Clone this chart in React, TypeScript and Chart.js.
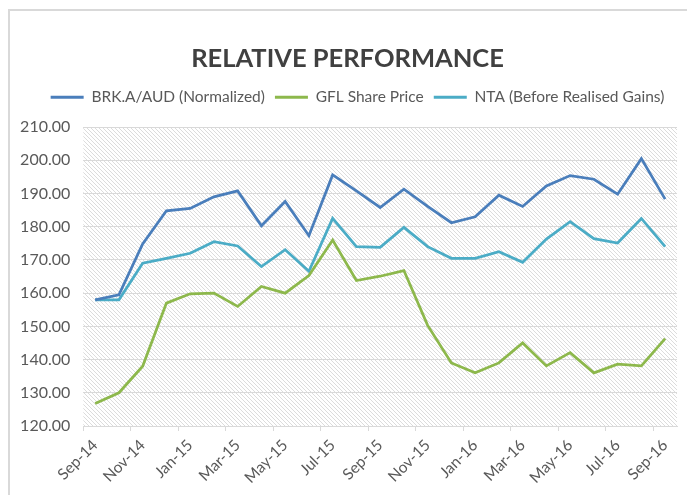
import React, { useEffect, useRef } from "react";
import { Chart, registerables } from "chart.js";

Chart.register(...registerables);

const categories = [
  "Sep-14", "Oct-14", "Nov-14", "Dec-14", "Jan-15", "Feb-15", "Mar-15", "Apr-15", "May-15",
  "Jun-15", "Jul-15", "Aug-15", "Sep-15", "Oct-15", "Nov-15", "Dec-15", "Jan-16", "Feb-16",
  "Mar-16", "Apr-16", "May-16", "Jun-16", "Jul-16", "Aug-16", "Sep-16",
];

const brkValues = [
  158.0, 159.5, 174.8, 184.8, 185.5, 189.0, 190.8, 180.3, 187.6, 177.3, 195.6, 190.8, 185.8,
  191.3, 186.1, 181.2, 183.0, 189.5, 186.1, 192.3, 195.4, 194.3, 189.8, 200.5, 188.3,
];

const gflValues = [
  126.8, 130.0, 138.0, 157.0, 159.8, 160.0, 156.0, 162.0, 160.0, 165.3, 176.0, 163.8, 165.1,
  166.8, 150.3, 139.0, 136.0, 139.0, 145.0, 138.1, 142.1, 136.0, 138.6, 138.1, 146.3,
];

const ntaValues = [
  158.0, 158.0, 169.0, 170.5, 172.0, 175.5, 174.2, 168.0, 173.1, 166.6, 182.5, 174.0, 173.8,
  179.8, 174.0, 170.5, 170.5, 172.5, 169.3, 176.3, 181.5, 176.4, 175.1, 182.5, 174.0,
];

const seriesNames = ["BRK.A/AUD (Normalized)", "GFL Share Price", "NTA (Before Realised Gains)"];
const titleText = "RELATIVE PERFORMANCE";
const yMin = 120;
const yMax = 210;
const yStep = 10;

const FONT = "Lato, 'Open Sans', sans-serif";

function makeHatch(ctx: CanvasRenderingContext2D) {
  const c = document.createElement("canvas");
  c.width = 4;
  c.height = 4;
  const g = c.getContext("2d")!;
  g.fillStyle = "#ffffff";
  g.fillRect(0, 0, 4, 4);
  g.fillStyle = "#dcdcdc";
  for (let i = 0; i < 4; i++) g.fillRect(i, i, 1, 1);
  return ctx.createPattern(c, "repeat");
}

const hatchPlugin = {
  id: "hatchBg",
  beforeDraw(chart: any) {
    const { ctx, chartArea } = chart;
    if (!chartArea) return;
    const pat = makeHatch(ctx);
    ctx.save();
    ctx.fillStyle = pat || "#eee";
    ctx.fillRect(chartArea.left, chartArea.top, chartArea.right - chartArea.left, chartArea.bottom - chartArea.top);
    ctx.restore();
  },
};

const shiftDraw = (box: any, dx: number) => {
  const orig = box.draw;
  box.draw = function (...args: any[]) {
    const ctx = this.ctx;
    ctx.save();
    ctx.translate(dx, 0);
    orig.apply(this, args);
    ctx.restore();
  };
};

const layoutTweaks = {
  id: "layoutTweaks",
  beforeInit(chart: any) {
    const orig = chart.legend.fit;
    chart.legend.fit = function () {
      orig.call(this);
      this.height += 12;
    };
    shiftDraw(chart.legend, 14);
    shiftDraw(chart.titleBlock, 4);
  },
};

export default function App() {
  const ref = useRef<HTMLCanvasElement>(null);

  useEffect(() => {
    if (!ref.current) return;
    const mk = (label: string, data: number[], color: string) => ({
      label,
      data,
      borderColor: color,
      backgroundColor: color,
      borderWidth: 2.75,
      pointRadius: 0,
      pointHoverRadius: 0,
      tension: 0,
      fill: false,
    });
    const chart = new Chart(ref.current, {
      type: "line",
      data: {
        labels: categories,
        datasets: [
          mk(seriesNames[0], brkValues, "#4A7EBB"),
          mk(seriesNames[1], gflValues, "#8DB84C"),
          mk(seriesNames[2], ntaValues, "#4BACC6"),
        ],
      },
      options: {
        responsive: false,
        animation: false,
        layout: { padding: { top: 0, left: 0, right: 10, bottom: 0 } },
        plugins: {
          title: {
            display: true,
            text: titleText,
            color: "#404040",
            font: { family: FONT, size: 25.5, weight: "bold" },
            padding: { top: 32, bottom: 6 },
          },
          legend: {
            display: true,
            labels: {
              color: "#595959",
              font: { family: FONT, size: 15.5 },
              boxWidth: 33,
              boxHeight: 3,
              padding: 10,
              generateLabels: (c: any) =>
                Chart.defaults.plugins.legend.labels
                  .generateLabels(c)
                  .map((l: any) => ({ ...l, lineWidth: 0, fillStyle: l.strokeStyle })),
            },
          },
          tooltip: { enabled: false },
        },
        scales: {
          x: {
            offset: true,
            grid: {
              offset: true,
              drawOnChartArea: false,
              tickLength: 5,
              color: (ctx: any) => (ctx.index % 2 === 0 ? "#d9d9d9" : "rgba(0,0,0,0)"),
            },
            border: { color: "#d9d9d9", width: 1 },
            ticks: {
              autoSkip: false,
              minRotation: 45,
              maxRotation: 45,
              padding: 5,
              color: "#595959",
              font: { family: FONT, size: 15.5 },
              callback: function (this: any, v: any, i: number) {
                return i % 2 === 0 ? this.getLabelForValue(v) : "";
              },
            },
            afterFit: (s: any) => {
              s.height = 69;
            },
          },
          y: {
            min: yMin,
            max: yMax,
            border: { display: false },
            grid: { color: "#d9d9d9", drawTicks: false },
            ticks: {
              stepSize: yStep,
              padding: 13,
              color: "#595959",
              font: { family: FONT, size: 16 },
              callback: (v: any) => Number(v).toFixed(2),
            },
            afterFit: (s: any) => {
              s.width = 73.3;
            },
          },
        },
      },
      plugins: [hatchPlugin, layoutTweaks],
    } as any);
    return () => chart.destroy();
  }, []);

  return (
    <div
      style={{
        position: "fixed",
        left: 8,
        top: 9,
        width: 679,
        height: 486,
        borderTop: "2px solid #d9d9d9",
        borderLeft: "2px solid #d9d9d9",
        boxSizing: "border-box",
        background: "#fff",
      }}
    >
      <canvas ref={ref} width={677} height={484} style={{ display: "block" }} />
    </div>
  );
}
